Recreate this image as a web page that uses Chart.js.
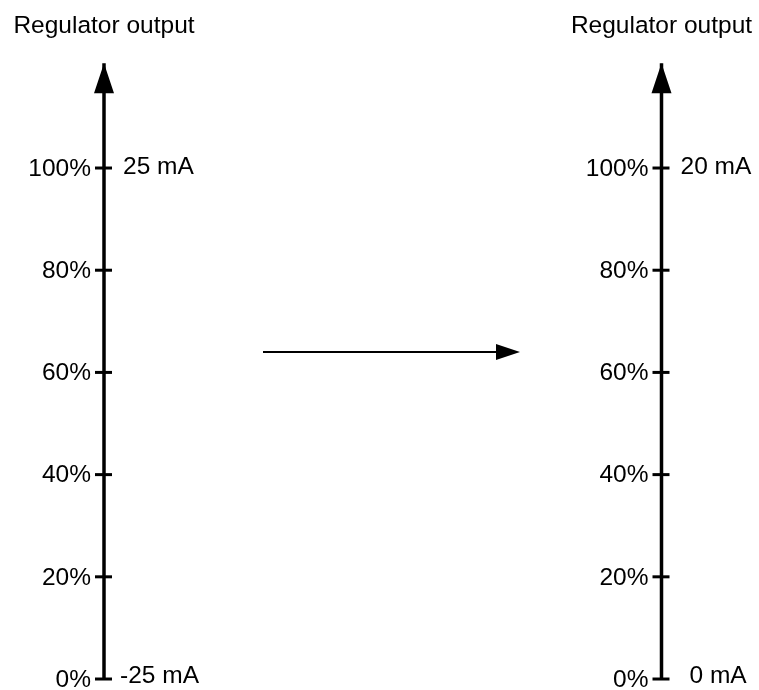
<!DOCTYPE html>
<html>
<head>
<meta charset="utf-8">
<script src="https://cdn.jsdelivr.net/npm/chart.js@4"></script>
<style>
  html, body { margin: 0; padding: 0; background: #fff; }
  #wrap { width: 759px; height: 690px; }
</style>
</head>
<body>
<div id="wrap"><canvas id="c" width="759" height="690"></canvas></div>
<script>
// values
const percentTicks = [0, 20, 40, 60, 80, 100];
const percentLabels = ["0%", "20%", "40%", "60%", "80%", "100%"];
const axisTitles = ["Regulator output", "Regulator output"];
const leftRangeLabels = ["-25 mA", "25 mA"];   // at 0% and 100%
const rightRangeLabels = ["0 mA", "20 mA"];

// layout (x in pixel units, y in percent units)
const axisX = [104, 661.5];
const axisTop = 120.5;
const arrowY = 64;
const arrowFrom = 263, arrowTo = 520;
const FONT = '24.5px "Liberation Sans", Arial, sans-serif';

const axisData = (x) => [{ x: x, y: 0 }, { x: x, y: axisTop }];

const diagram = {
  id: "diagram",
  afterDatasetsDraw(chart) {
    const ctx = chart.ctx;
    const xs = chart.scales.x, ys = chart.scales.y;
    ctx.save();
    ctx.fillStyle = "#000";
    ctx.strokeStyle = "#000";

    axisX.forEach((ax, i) => {
      const px = xs.getPixelForValue(ax);
      // arrow head
      const tip = ys.getPixelForValue(axisTop);
      ctx.beginPath();
      ctx.moveTo(px, tip);
      ctx.lineTo(px - 10, tip + 30);
      ctx.lineTo(px + 10, tip + 30);
      ctx.closePath();
      ctx.fill();
      // ticks
      ctx.lineWidth = 3;
      percentTicks.forEach((t) => {
        const py = ys.getPixelForValue(t);
        ctx.beginPath();
        ctx.moveTo(px - 9, py);
        ctx.lineTo(px + 8, py);
        ctx.stroke();
      });
      ctx.font = FONT;
      ctx.textBaseline = "middle";
      ctx.textAlign = "right";
      percentTicks.forEach((t, k) => {
        ctx.fillText(percentLabels[k], px - 13, ys.getPixelForValue(t) + 1);
      });
      const rl = i === 0 ? leftRangeLabels : rightRangeLabels;
      ctx.textAlign = "left";
      ctx.fillText(rl[0], px + (i === 0 ? 16 : 28), ys.getPixelForValue(0) - 3);
      ctx.fillText(rl[1], px + 19, ys.getPixelForValue(100) - 1);
      ctx.textAlign = "center";
      ctx.fillText(axisTitles[i], px, 26);
    });

    // horizontal arrow head
    const hx = xs.getPixelForValue(arrowTo), hy = ys.getPixelForValue(arrowY);
    ctx.beginPath();
    ctx.moveTo(hx, hy);
    ctx.lineTo(hx - 24, hy - 8);
    ctx.lineTo(hx - 24, hy + 8);
    ctx.closePath();
    ctx.fill();
    ctx.restore();
  }
};

new Chart(document.getElementById("c"), {
  type: "line",
  data: {
    datasets: [
      { data: axisData(axisX[0]), borderColor: "#000", borderWidth: 3.5, pointRadius: 0 },
      { data: axisData(axisX[1]), borderColor: "#000", borderWidth: 3.5, pointRadius: 0 },
      { data: [{ x: arrowFrom, y: arrowY }, { x: arrowTo - 10, y: arrowY }], borderColor: "#000", borderWidth: 2, pointRadius: 0 }
    ]
  },
  options: {
    responsive: false,
    animation: false,
    layout: { padding: 0, autoPadding: false },
    plugins: { legend: { display: false }, tooltip: { enabled: false } },
    scales: {
      x: { type: "linear", display: false, min: 0, max: 759 },
      y: { type: "linear", display: false, min: -2.15, max: 132.88 }
    }
  },
  plugins: [diagram]
});
</script>
</body>
</html>
